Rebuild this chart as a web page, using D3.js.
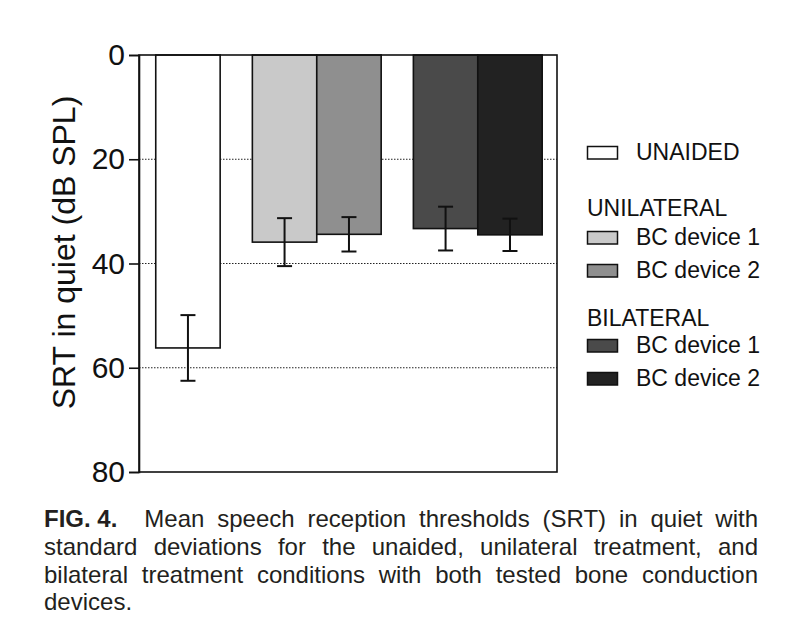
<!DOCTYPE html>
<html>
<head>
<meta charset="utf-8">
<script src="https://cdn.jsdelivr.net/npm/d3@7"></script>
<style>
  body { margin: 0; background: #fff; }
  svg { display: block; font-family: "Liberation Sans", Arial, sans-serif; }
</style>
</head>
<body>
<div id="chart-area"></div>
<script>
// data
var groups = ["UNAIDED", "UNILATERAL", "BILATERAL"];
var barGroup = [0, 1, 1, 2, 2];
var barDevice = ["", "BC device 1", "BC device 2", "BC device 1", "BC device 2"];
var meanSRT = [56.2, 35.9, 34.4, 33.3, 34.5];
var sdSRT = [6.3, 4.6, 3.3, 4.2, 3.1];
var yTicks = [0, 20, 40, 60, 80];
var gridValues = [20, 40, 60];
var captionLines = [
  "Mean speech reception thresholds (SRT) in quiet with",
  "standard deviations for the unaided, unilateral treatment, and",
  "bilateral treatment conditions with both tested bone conduction",
  "devices."
];

// styles
var barFill = ["#ffffff", "#c9c9c9", "#8f8f8f", "#4a4a4a", "#222222"];

var W = 802, H = 627;
var plot = { left: 139, right: 557, top: 55, bottom: 472 };

var svg = d3.select("#chart-area")
  .append("svg")
    .attr("width", W)
    .attr("height", H);

svg.append("rect").attr("width", W).attr("height", H).attr("fill", "#fff");

var y = d3.scaleLinear()
  .domain([0, 80])
  .range([plot.top, plot.bottom]);

// slot position: bars touch inside a group, half a bar of gap between groups
var slots = meanSRT.map(function(d, i) { return i + 0.5 * barGroup[i]; });
var x = d3.scaleLinear()
  .domain([-0.26, 6.23])
  .range([plot.left, plot.right]);
var barW = x(1) - x(0);

// grid lines
svg.append("g")
  .selectAll("line")
  .data(gridValues)
  .enter().append("line")
    .attr("x1", plot.left)
    .attr("x2", plot.right)
    .attr("y1", function(d) { return y(d); })
    .attr("y2", function(d) { return y(d); })
    .attr("stroke", "#222")
    .attr("stroke-width", 1)
    .attr("stroke-dasharray", "1.5,1.5");

// bars
svg.append("g")
  .selectAll("rect")
  .data(meanSRT)
  .enter().append("rect")
    .attr("x", function(d, i) { return x(slots[i]); })
    .attr("y", y(0))
    .attr("width", barW)
    .attr("height", function(d) { return y(d) - y(0); })
    .attr("fill", function(d, i) { return barFill[i]; })
    .attr("stroke", "#111")
    .attr("stroke-width", 1.6);

// error bars
var capW = 15;
var err = svg.append("g")
  .selectAll("g")
  .data(meanSRT)
  .enter().append("g")
    .attr("stroke", "#111")
    .attr("stroke-width", 2);
err.append("line")
  .attr("x1", function(d, i) { return x(slots[i]) + barW / 2; })
  .attr("x2", function(d, i) { return x(slots[i]) + barW / 2; })
  .attr("y1", function(d, i) { return y(d - sdSRT[i]); })
  .attr("y2", function(d, i) { return y(d + sdSRT[i]); });
[-1, 1].forEach(function(s) {
  err.append("line")
    .attr("x1", function(d, i) { return x(slots[i]) + barW / 2 - capW / 2; })
    .attr("x2", function(d, i) { return x(slots[i]) + barW / 2 + capW / 2; })
    .attr("y1", function(d, i) { return y(d + s * sdSRT[i]); })
    .attr("y2", function(d, i) { return y(d + s * sdSRT[i]); });
});

// frame
svg.append("rect")
  .attr("x", plot.left)
  .attr("y", plot.top)
  .attr("width", plot.right - plot.left)
  .attr("height", plot.bottom - plot.top)
  .attr("fill", "none")
  .attr("stroke", "#111")
  .attr("stroke-width", 1.6);

// Y axis
var yAxis = svg.append("g")
  .attr("transform", "translate(" + plot.left + ",0)")
  .call(d3.axisLeft(y).tickValues(yTicks).tickSize(10).tickPadding(4));
yAxis.select(".domain").attr("stroke", "#111").attr("stroke-width", 1.6);
yAxis.selectAll(".tick line").attr("stroke", "#111").attr("stroke-width", 1.6);
yAxis.selectAll(".tick text")
  .attr("font-size", "30px")
  .attr("font-family", "Liberation Sans, Arial, sans-serif")
  .attr("fill", "#111");

svg.append("text")
  .attr("transform", "translate(75," + ((plot.top + plot.bottom) / 2 - 11) + ") rotate(-90)")
  .attr("text-anchor", "middle")
  .attr("font-size", "32px")
  .attr("fill", "#111")
  .text("SRT in quiet (dB SPL)");

// Legend
var legend = svg.append("g").attr("transform", "translate(587,0)");
var legendRows = [
  { type: "bar", i: 0, label: "UNAIDED", y: 160 },
  { type: "head", label: groups[1], y: 216 },
  { type: "bar", i: 1, label: barDevice[1], y: 245 },
  { type: "bar", i: 2, label: barDevice[2], y: 278 },
  { type: "head", label: groups[2], y: 326 },
  { type: "bar", i: 3, label: barDevice[3], y: 353 },
  { type: "bar", i: 4, label: barDevice[4], y: 386 }
];
legendRows.forEach(function(r) {
  if (r.type == "bar") {
    legend.append("rect")
      .attr("x", 0.5)
      .attr("y", r.y - 13.5)
      .attr("width", 30)
      .attr("height", 12.5)
      .attr("fill", barFill[r.i])
      .attr("stroke", "#111")
      .attr("stroke-width", 1.5);
    legend.append("text")
      .attr("x", 49)
      .attr("y", r.y)
      .attr("font-size", "23px")
      .attr("fill", "#111")
      .text(r.label);
  } else {
    legend.append("text")
      .attr("x", 0)
      .attr("y", r.y)
      .attr("font-size", "23px")
      .attr("fill", "#111")
      .text(r.label);
  }
});

// Caption, justified
var capLeft = 44, capRight = 758;
var capBase = [527, 555, 582.5, 610];
var cap = svg.append("g")
  .attr("font-size", "24px")
  .attr("fill", "#231f20");

var fig = cap.append("text")
  .attr("x", capLeft)
  .attr("y", capBase[0])
  .attr("font-weight", "bold")
  .text("FIG. 4.");
var figEnd = capLeft + fig.node().getComputedTextLength();

function placeLine(words, x0, x1, yb, justify) {
  var nodes = words.map(function(w) {
    return cap.append("text").attr("y", yb).text(w);
  });
  var widths = nodes.map(function(n) { return n.node().getComputedTextLength(); });
  var total = d3.sum(widths);
  var gap = justify && words.length > 1 ? (x1 - x0 - total) / (words.length - 1) : 6;
  var cx = x0;
  nodes.forEach(function(n, k) {
    n.attr("x", cx);
    cx += widths[k] + gap;
  });
}

captionLines.forEach(function(line, k) {
  var x0 = k == 0 ? figEnd + 27 : capLeft;
  placeLine(line.split(" "), x0, capRight, capBase[k], k < captionLines.length - 1);
});
</script>
</body>
</html>
